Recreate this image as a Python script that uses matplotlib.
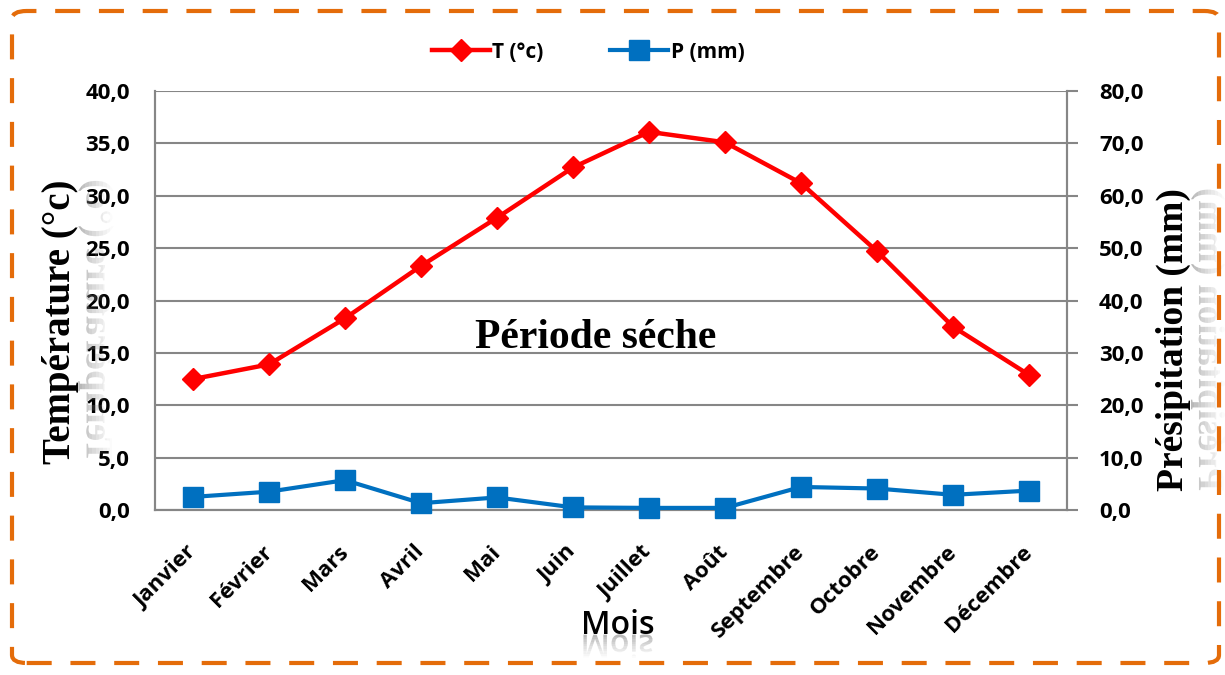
import matplotlib.pyplot as plt
import numpy as np
from matplotlib.font_manager import FontProperties
from matplotlib.textpath import TextPath
from matplotlib.patches import PathPatch, FancyBboxPatch, Rectangle
from matplotlib.transforms import Affine2D, ScaledTranslation
from matplotlib.lines import Line2D

# données climatiques
mois = ["Janvier", "Février", "Mars", "Avril", "Mai", "Juin", "Juillet",
        "Août", "Septembre", "Octobre", "Novembre", "Décembre"]
temperature = [12.5, 13.9, 18.3, 23.3, 27.9, 32.7, 36.1, 35.1, 31.2, 24.7, 17.5, 12.9]
precipitation = [2.5, 3.5, 5.7, 1.3, 2.4, 0.5, 0.4, 0.4, 4.4, 4.1, 2.9, 3.7]
t_ticks = [0, 5, 10, 15, 20, 25, 30, 35, 40]
p_ticks = [0, 10, 20, 30, 40, 50, 60, 70, 80]

W, H, DPI = 1225, 675, 100
rouge = "#FF0000"
bleu = "#0070C0"
gris = "#868686"
orange = "#E46C0A"

fp_tick = FontProperties(family="Open Sans", weight="bold", size=16)
fp_serif = FontProperties(family="Liberation Serif", weight="bold")
fp_mois = FontProperties(family="Open Sans", weight="semibold")


def texte_reflet(fig, s, prop, fs, x, y, angle):
    # real text + mirrored faded copy (excel "reflection" effect)
    fig.text(x / W, y / H, s, fontproperties=prop, fontsize=fs, rotation=angle,
             rotation_mode="anchor", ha="center", va="baseline", color="black")
    size_px = fs * DPI / 72
    tp = TextPath((0, 0), s, size=size_px, prop=prop)
    ext = tp.get_extents()
    cx = ext.x0 + ext.width / 2
    local = Affine2D().translate(-cx, 0).scale(1, -1).translate(0, 2 * ext.y0)
    place = Affine2D().rotate_deg(angle).translate(x, y)
    h = ext.height
    n = 10
    for i in range(n):
        y_top = ext.y0 - h * i / n
        clip = Rectangle((-ext.width, y_top - h / n), 2 * ext.width, h / n,
                         transform=place)
        p = PathPatch(local.transform_path(tp), facecolor="#7f7f7f", edgecolor="none",
                      alpha=0.55 * (1 - i / n) ** 1.3, transform=place)
        fig.add_artist(p)
        p.set_clip_path(clip)


fig = plt.figure(figsize=(W / DPI, H / DPI), dpi=DPI)
ax = fig.add_axes([155 / W, 1 - 510 / H, (1067 - 155) / W, (510 - 91) / H])
ax2 = ax.twinx()

x = np.arange(len(mois))
ax.plot(x, temperature, color=rouge, lw=3.2, marker="D", markersize=11, zorder=3,
        clip_on=False)
ax2.plot(x, precipitation, color=bleu, lw=3.0, marker="s", markersize=15, zorder=3,
         clip_on=False)

ax.set_xlim(-0.5, len(mois) - 0.5)
ax.set_ylim(0, 40)
ax2.set_ylim(0, 80)
ax.set_yticks(t_ticks)
ax2.set_yticks(p_ticks)
ax.set_yticklabels([f"{v:.1f}".replace(".", ",") for v in t_ticks])
ax2.set_yticklabels([f"{v:.1f}".replace(".", ",") for v in p_ticks])
for lab in ax.get_yticklabels() + ax2.get_yticklabels():
    lab.set_fontproperties(fp_tick)

ax.set_xticks(x)
ax.set_xticklabels(mois, rotation=45, ha="right", va="center", rotation_mode="anchor")
off = ScaledTranslation(9 / DPI, 0, fig.dpi_scale_trans)
for lab in ax.get_xticklabels():
    lab.set_fontproperties(fp_tick)
    lab.set_transform(lab.get_transform() + off)

ax.grid(axis="y", color=gris, lw=1.5)
ax.set_axisbelow(True)
ax.tick_params(axis="x", length=0, pad=28)
ax.tick_params(axis="y", length=0, pad=18)
ax2.tick_params(axis="y", length=8, width=1.5, color=gris, pad=15)
for a in (ax, ax2):
    a.spines["top"].set_visible(False)
    for sp in ("left", "right", "bottom"):
        a.spines[sp].set_color(gris)
        a.spines[sp].set_linewidth(1.5)

ax.text(0.483, 0.41, "Période séche", transform=ax.transAxes, ha="center", va="center",
        fontproperties=fp_serif, fontsize=30)

# titres d'axes avec reflet
texte_reflet(fig, "Température (°c)", fp_serif, 28, 70, H - 322, 90)
texte_reflet(fig, "Présipitation (mm)", fp_serif, 27, 1183, H - 340, 90)
texte_reflet(fig, "Mois", fp_mois, 23, 618, H - 634, 0)

handles = [Line2D([], [], color=rouge, lw=3.2, marker="D", markersize=11),
           Line2D([], [], color=bleu, lw=3.0, marker="s", markersize=15)]
fig.legend(handles, ["T (°c)", "P (mm)"], loc="center", bbox_to_anchor=(0.48, 1 - 52 / H),
           ncol=2, frameon=False, prop=FontProperties(family="Open Sans", weight="bold", size=15),
           handlelength=2.8, handletextpad=0.1, columnspacing=3.2)

border = FancyBboxPatch((12 / W, 12 / H), (1219 - 12) / W, (664 - 12) / H,
                        boxstyle="round,pad=0,rounding_size=0.012", transform=fig.transFigure,
                        facecolor="none", edgecolor=orange, lw=3,
                        linestyle=(0, (6, 4.5)))
fig.add_artist(border)

fig.savefig("out.png", dpi=DPI)
